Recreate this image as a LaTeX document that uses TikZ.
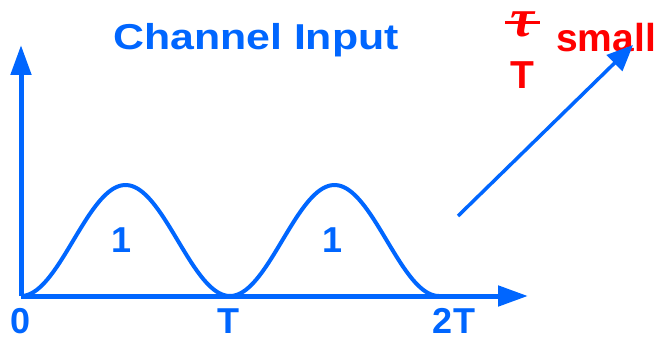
\documentclass[tikz,border=0pt]{standalone}
\usepackage{fontspec}
\setmainfont{Liberation Sans}
\newfontfamily\taufont{Liberation Serif}
\usetikzlibrary{arrows.meta}
\definecolor{pblue}{RGB}{0,102,255}
\definecolor{pred}{RGB}{255,0,0}
\tikzset{
  axis/.style={draw=pblue,line width=5pt,-{Triangle[length=30pt,width=20pt]}},
  pulse/.style={draw=pblue,line width=4pt},
  lbl/.style={text=pblue,font=\bfseries\fontsize{36}{36}\selectfont,inner sep=0pt},
  rlbl/.style={text=pred,font=\bfseries\fontsize{39}{39}\selectfont,inner sep=0pt},
  pointer/.style={draw=pblue,line width=3.5pt,-{Triangle[length=26pt,width=22pt]}}
}
\begin{document}
\begin{tikzpicture}[x=1pt,y=-1pt]
\useasboundingbox (0,0) rectangle (664,339);
\coordinate (o) at (21,296);
\coordinate (ytip) at (21,45);
\coordinate (xtip) at (528,296);
\draw[axis] (o) -- (ytip);
\draw[axis] (o) -- (xtip);
\draw[pulse,domain=0:209,samples=80,smooth] plot ({21+\x},{296-111*sin(\x/209*180)^2});
\draw[pulse,domain=0:209,samples=80,smooth] plot ({230+\x},{296-111*sin(\x/209*180)^2});
\node[lbl] (one1) at (122,240) {1};
\node[lbl] (one2) at (333,240) {1};
\node[lbl,anchor=base] (zero) at (21,333) {0};
\node[lbl,anchor=base] (tT) at (228,333) {T};
\node[lbl,anchor=base] (t2T) at (454,333) {2T};
\node[lbl,xscale=1.19] (title) at (256,40) {Channel Input};
\node[text=pred,inner sep=0pt,font=\taufont\bfseries\itshape\fontsize{54}{54}\selectfont] (tau) at (522,24) {τ};
\draw[pred,line width=3pt] (505,22.5) -- (540,22.5);
\node[rlbl] (denT) at (522,75) {T};
\node[rlbl] (small) at (606,38) {small};
\coordinate (pstart) at (458,216);
\coordinate (pend) at (633,45);
\draw[pointer] (pstart) -- (pend);
\end{tikzpicture}
\end{document}
